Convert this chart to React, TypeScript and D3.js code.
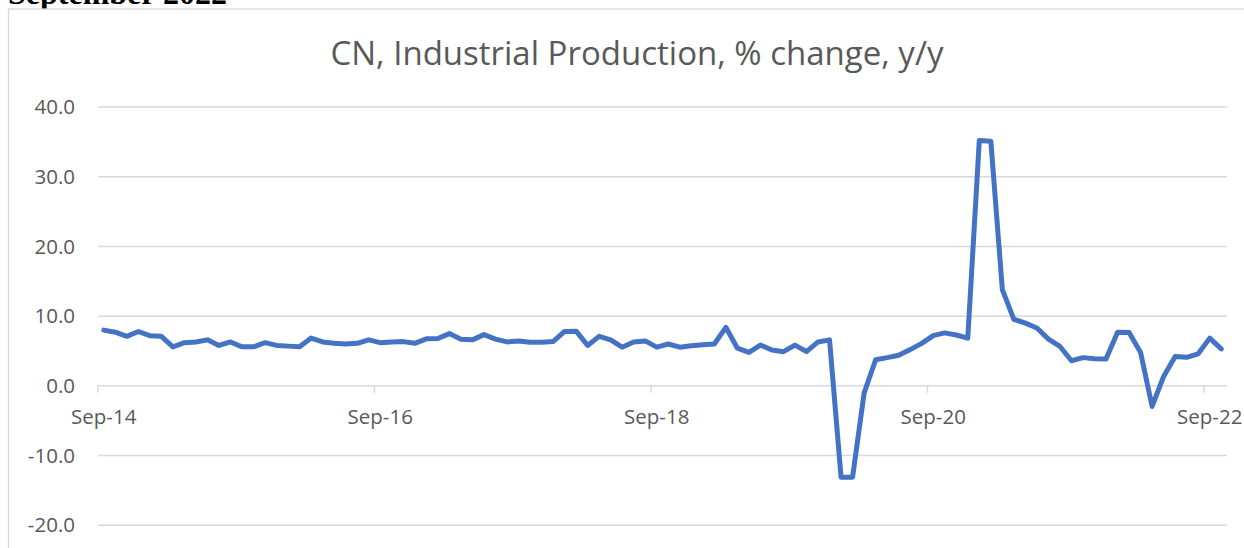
import React from 'react';
import * as d3 from 'd3';

// monthly categories, Sep-2014 .. Oct-2022
const months: Date[] = d3.timeMonths(new Date(2014, 8, 1), new Date(2022, 10, 1));

// CN industrial production, % change y/y
const ipYoY = [
  8.0, 7.7, 7.1, 7.8,
  7.2, 7.1, 5.6, 6.2, 6.3, 6.6, 5.8, 6.3, 5.6, 5.6, 6.2, 5.8,
  5.7, 5.6, 6.85, 6.3, 6.1, 6.0, 6.1, 6.6, 6.2, 6.3, 6.35, 6.1,
  6.75, 6.8, 7.5, 6.7, 6.6, 7.35, 6.7, 6.3, 6.45, 6.25, 6.25, 6.35,
  7.8, 7.85, 5.8, 7.1, 6.6, 5.55, 6.3, 6.45, 5.55, 6.0, 5.55, 5.75,
  5.9, 6.0, 8.4, 5.4, 4.8, 5.85, 5.15, 4.9, 5.85, 4.9, 6.3, 6.6,
  -13.1, -13.1, -1.05, 3.75, 4.05, 4.4, 5.2, 6.1, 7.2, 7.6, 7.3, 6.85,
  35.2, 35.1, 13.8, 9.55, 9.0, 8.3, 6.7, 5.65, 3.6, 4.05, 3.9, 3.85,
  7.7, 7.65, 4.8, -2.95, 1.35, 4.2, 4.1, 4.6, 6.85, 5.3,
];

const yTicks = [-20, -10, 0, 10, 20, 30, 40];
const xTickLabels = ['Sep-14', 'Sep-16', 'Sep-18', 'Sep-20', 'Sep-22'];
const xTickEvery = 24;

const W = 1244;
const H = 548;
const font = '"Open Sans", "Noto Sans", sans-serif';
const textColor = '#595959';
const gridColor = '#d9d9d9';

export default function App() {
  const x = d3.scaleBand<number>()
    .domain(months.map((_, i) => i))
    .range([98, 1227])
    .padding(0);

  const y = d3.scaleLinear().domain([-20, 40]).range([525.3, 107]);

  const line = d3.line<number>()
    .x((_, i) => x(i)! + x.bandwidth() / 2)
    .y((d) => y(d));

  const tickIdx = xTickLabels.map((_, k) => k * xTickEvery);

  return (
    <svg
      width={W}
      height={H}
      style={{ position: 'absolute', left: 0, top: 0, display: 'block', background: '#fff' }}
    >
      {/* caption cut off above the chart */}
      <text x={8} y={4} fontFamily='"Liberation Serif", serif' fontWeight="bold" fontSize={32} fill="#000">
        September 2022
      </text>

      {/* chart area border */}
      <rect x={8.5} y={9} width={W + 20} height={H + 20} fill="#fff" stroke={gridColor} strokeWidth={1.3} />

      <text x={637} y={65} textAnchor="middle" fontFamily={font} fontSize={33} fill={textColor}>
        CN, Industrial Production, % change, y/y
      </text>

      {/* gridlines + y labels */}
      {yTicks.map((t) => (
        <g key={t}>
          <line x1={98} x2={1227} y1={y(t)} y2={y(t)} stroke={gridColor} strokeWidth={1.5} />
          <text
            x={75}
            y={y(t)}
            dy="0.35em"
            textAnchor="end"
            fontFamily={font}
            fontSize={20.5}
            fill={textColor}
          >
            {t.toFixed(1)}
          </text>
        </g>
      ))}

      {/* x ticks and labels on the zero line */}
      {tickIdx.map((i, k) => (
        <g key={i}>
          <line x1={x(i)!} x2={x(i)!} y1={y(0)} y2={y(0) + 7} stroke={gridColor} strokeWidth={1.5} />
          <text
            x={x(i)! + x.bandwidth() / 2}
            y={y(0) + 38}
            textAnchor="middle"
            fontFamily={font}
            fontSize={20.5}
            fill={textColor}
          >
            {xTickLabels[k]}
          </text>
        </g>
      ))}

      <path
        d={line(ipYoY) || ''}
        fill="none"
        stroke="#4472C4"
        strokeWidth={5}
        strokeLinejoin="round"
        strokeLinecap="round"
      />
    </svg>
  );
}
